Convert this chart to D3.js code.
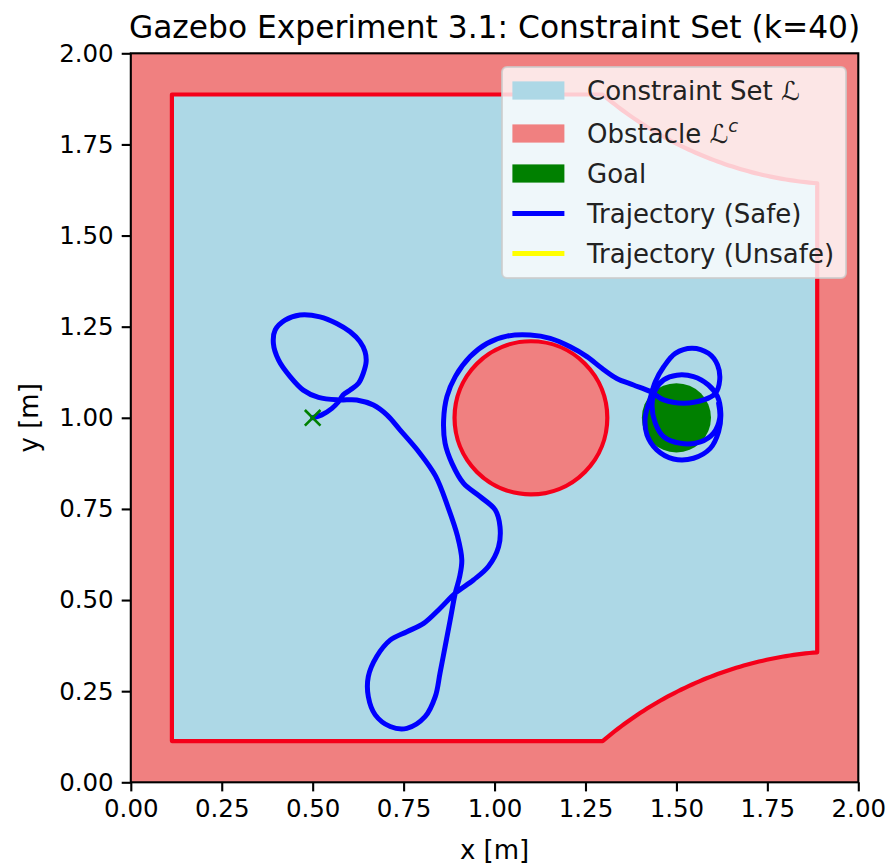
<!DOCTYPE html>
<html>
<head>
<meta charset="utf-8">
<script src="https://cdn.jsdelivr.net/npm/d3@7"></script>
<style>
  body { margin: 0; background: #ffffff; }
  text { font-family: "DejaVu Sans", sans-serif; }
</style>
</head>
<body>
<svg id="chart" width="893" height="867"></svg>
<script>
// ---- chart data ----
const chartTitle = "Gazebo Experiment 3.1: Constraint Set (k=40)";
const xLabel = "x [m]";
const yLabel = "y [m]";
const xTicks = [0, 0.25, 0.5, 0.75, 1.0, 1.25, 1.5, 1.75, 2.0];
const yTicks = [0, 0.25, 0.5, 0.75, 1.0, 1.25, 1.5, 1.75, 2.0];

// constraint set: inset box with two circular cut-outs on the right
const boxMin = 0.113;
const boxMax = 1.887;
const cutBottom = { cx: 1.97, cy: -0.68, r: 1.04 };
const cutTop = { cx: 1.97, cy: 2.68, r: 1.04 };

// circular obstacle, goal region and start point
const obstacle = { cx: 1.1, cy: 1.0, r: 0.21 };
const goal = { cx: 1.5, cy: 1.0, r: 0.095 };
const startPoint = { x: 0.5, y: 1.0 };

// robot trajectory (safe)
const trajX = [0.500, 0.525, 0.553, 0.571, 0.584, 0.603, 0.626, 0.639, 0.647, 0.644,
  0.630, 0.603, 0.566, 0.520, 0.465, 0.424, 0.397, 0.392, 0.406, 0.438,
  0.474, 0.516, 0.571, 0.621, 0.667, 0.704, 0.740, 0.793, 0.838, 0.872,
  0.898, 0.910, 0.904, 0.892, 0.878, 0.864, 0.850, 0.837, 0.809, 0.759,
  0.713, 0.672, 0.653, 0.653, 0.676, 0.713, 0.759, 0.805, 0.850, 0.892,
  0.942, 0.983, 1.011, 1.015, 1.002, 0.960, 0.915, 0.883, 0.864, 0.860,
  0.869, 0.892, 0.933, 0.979, 1.034, 1.098, 1.153, 1.208, 1.254, 1.295,
  1.336, 1.382, 1.428, 1.465, 1.520, 1.575, 1.607, 1.619, 1.613, 1.588,
  1.543, 1.497, 1.465, 1.442, 1.428, 1.414, 1.419, 1.446, 1.492, 1.547,
  1.593, 1.616, 1.622, 1.613, 1.588, 1.547, 1.501, 1.465, 1.442, 1.433,
  1.442, 1.465, 1.511, 1.566, 1.602, 1.619, 1.616];
const trajY = [1.000, 1.008, 1.026, 1.044, 1.063, 1.076, 1.095, 1.122, 1.154, 1.181,
  1.209, 1.236, 1.259, 1.277, 1.282, 1.268, 1.241, 1.204, 1.159, 1.113,
  1.076, 1.056, 1.049, 1.049, 1.035, 1.008, 0.967, 0.905, 0.840, 0.755,
  0.676, 0.610, 0.564, 0.519, 0.445, 0.372, 0.299, 0.235, 0.180, 0.148,
  0.153, 0.185, 0.235, 0.290, 0.345, 0.390, 0.413, 0.436, 0.477, 0.519,
  0.555, 0.592, 0.646, 0.701, 0.747, 0.784, 0.820, 0.875, 0.930, 0.994,
  1.058, 1.113, 1.168, 1.204, 1.224, 1.227, 1.218, 1.195, 1.168, 1.136,
  1.108, 1.090, 1.072, 1.049, 1.040, 1.049, 1.067, 1.104, 1.145, 1.177,
  1.191, 1.177, 1.140, 1.099, 1.054, 0.999, 0.953, 0.912, 0.887, 0.889,
  0.916, 0.962, 1.012, 1.058, 1.090, 1.113, 1.117, 1.104, 1.076, 1.035,
  0.985, 0.948, 0.930, 0.934, 0.958, 0.999, 1.040];

const legendLabels = ["Constraint Set ", "Obstacle ", "Goal", "Trajectory (Safe)", "Trajectory (Unsafe)"];
const legendKinds = ["patch", "patch", "patch", "line", "line"];

// ---- colours ----
const colSet = "#add8e6";
const colObs = "#f08080";
const colEdge = "#f5001a";
const colGoal = "#008000";
const colSafe = "#0000ff";
const colUnsafe = "#ffff00";
const legendColors = [colSet, colObs, colGoal, colSafe, colUnsafe];

// ---- layout ----
const plotL = 130.8, plotR = 858.3, plotT = 53.3, plotB = 782.3;
const fs = 26;
const tickFs = 24.5;

const svg = d3.select("#chart");
const x = d3.scaleLinear().domain([0, 2]).range([plotL, plotR]);
const y = d3.scaleLinear().domain([0, 2]).range([plotB, plotT]);

svg.append("defs").append("clipPath").attr("id", "plotClip")
  .append("rect").attr("x", plotL).attr("y", plotT)
  .attr("width", plotR - plotL).attr("height", plotB - plotT);

const plot = svg.append("g").attr("clip-path", "url(#plotClip)");

// obstacle region (everything outside the constraint set)
plot.append("rect").attr("x", plotL).attr("y", plotT)
  .attr("width", plotR - plotL).attr("height", plotB - plotT)
  .attr("fill", colObs);

// constraint set outline
function arcPoints(c, fromX, fromY, toX, toY, n) {
  const a0 = Math.atan2(fromY - c.cy, fromX - c.cx);
  const a1 = Math.atan2(toY - c.cy, toX - c.cx);
  return d3.range(n + 1).map(i => {
    const a = a0 + (a1 - a0) * i / n;
    return [c.cx + c.r * Math.cos(a), c.cy + c.r * Math.sin(a)];
  });
}
const xb = cutBottom.cx - Math.sqrt(cutBottom.r ** 2 - (boxMin - cutBottom.cy) ** 2);
const yb = cutBottom.cy + Math.sqrt(cutBottom.r ** 2 - (boxMax - cutBottom.cx) ** 2);
const yt = cutTop.cy - Math.sqrt(cutTop.r ** 2 - (boxMax - cutTop.cx) ** 2);
const xt = cutTop.cx - Math.sqrt(cutTop.r ** 2 - (boxMax - cutTop.cy) ** 2);

const setPts = [[boxMin, boxMin]]
  .concat(arcPoints(cutBottom, xb, boxMin, boxMax, yb, 60))
  .concat(arcPoints(cutTop, boxMax, yt, xt, boxMax, 60))
  .concat([[boxMin, boxMax]]);

plot.append("path")
  .attr("d", d3.line().x(d => x(d[0])).y(d => y(d[1]))(setPts) + "Z")
  .attr("fill", colSet)
  .attr("stroke", colEdge)
  .attr("stroke-width", 4.2)
  .attr("stroke-linejoin", "round");

// circular obstacle
plot.append("ellipse")
  .attr("cx", x(obstacle.cx)).attr("cy", y(obstacle.cy))
  .attr("rx", x(obstacle.r) - x(0)).attr("ry", y(0) - y(obstacle.r))
  .attr("fill", colObs)
  .attr("stroke", colEdge)
  .attr("stroke-width", 4.2);

// goal
plot.append("ellipse")
  .attr("cx", x(goal.cx)).attr("cy", y(goal.cy))
  .attr("rx", x(goal.r) - x(0)).attr("ry", y(0) - y(goal.r))
  .attr("fill", colGoal);

// trajectory
const traj = trajX.map((v, i) => [v, trajY[i]]);
plot.append("path")
  .attr("d", d3.line().x(d => x(d[0])).y(d => y(d[1])).curve(d3.curveCatmullRom.alpha(0.5))(traj))
  .attr("fill", "none")
  .attr("stroke", colSafe)
  .attr("stroke-width", 5)
  .attr("stroke-linejoin", "round")
  .attr("stroke-linecap", "round");

// start marker
const sx = x(startPoint.x), sy = y(startPoint.y), ms = 7.8;
plot.append("path")
  .attr("d", `M${sx - ms},${sy - ms}L${sx + ms},${sy + ms}M${sx - ms},${sy + ms}L${sx + ms},${sy - ms}`)
  .attr("stroke", colGoal).attr("stroke-width", 2.6).attr("fill", "none");

// ---- axes ----
const fmt = d3.format(".2f");
const xAxis = svg.append("g").attr("transform", `translate(0,${plotB})`)
  .call(d3.axisBottom(x).tickValues(xTicks).tickFormat(fmt).tickSize(9.1).tickPadding(8).tickSizeOuter(0));
const yAxis = svg.append("g").attr("transform", `translate(${plotL},0)`)
  .call(d3.axisLeft(y).tickValues(yTicks).tickFormat(fmt).tickSize(9.1).tickPadding(8).tickSizeOuter(0));
[xAxis, yAxis].forEach(a => {
  a.select(".domain").remove();
  a.selectAll(".tick line").attr("stroke", "#000").attr("stroke-width", 2.1);
  a.selectAll(".tick text").attr("fill", "#000").style("font-size", tickFs + "px")
    .style("font-family", "'DejaVu Sans', sans-serif");
});

svg.append("rect").attr("x", plotL).attr("y", plotT)
  .attr("width", plotR - plotL).attr("height", plotB - plotT)
  .attr("fill", "none").attr("stroke", "#000").attr("stroke-width", 2.1);

// titles
svg.append("text").attr("x", (plotL + plotR) / 2).attr("y", 38)
  .attr("text-anchor", "middle").style("font-size", "31.3px").attr("fill", "#000")
  .text(chartTitle);
svg.append("text").attr("x", (plotL + plotR) / 2).attr("y", 859)
  .attr("text-anchor", "middle").style("font-size", fs + "px").attr("fill", "#000")
  .text(xLabel);
svg.append("text").attr("transform", `translate(38,${(plotT + plotB) / 2}) rotate(-90)`)
  .attr("text-anchor", "middle").style("font-size", fs + "px").attr("fill", "#000")
  .text(yLabel);

// ---- legend ----
const lg = svg.append("g");
lg.append("rect").attr("x", 502).attr("y", 67).attr("width", 344).attr("height", 211)
  .attr("rx", 5).attr("fill", "#ffffff").attr("fill-opacity", 0.8)
  .attr("stroke", "#cccccc").attr("stroke-opacity", 0.8).attr("stroke-width", 2);

const hx0 = 512.4, hLen = 52, tx = 587;
legendLabels.forEach((lab, i) => {
  const cy = 90.5 + i * 40 + (i > 0 ? 3 : 0);
  if (legendKinds[i] === "patch") {
    lg.append("rect").attr("x", hx0).attr("y", cy - 9.1).attr("width", hLen).attr("height", 18.2)
      .attr("fill", legendColors[i]);
  } else {
    lg.append("line").attr("x1", hx0).attr("x2", hx0 + hLen).attr("y1", cy).attr("y2", cy)
      .attr("stroke", legendColors[i]).attr("stroke-width", 5);
  }
  const t = lg.append("text").attr("x", tx).attr("y", cy + 9.5)
    .style("font-size", fs + "px").attr("fill", "#222");
  t.append("tspan").text(lab);
  if (i === 0) {
    t.append("tspan").style("font-style", "italic").text("ℒ");
  } else if (i === 1) {
    t.append("tspan").style("font-style", "italic").text("ℒ");
    t.append("tspan").attr("dy", -11).style("font-size", "18px").style("font-style", "italic").text("c");
  }
});
</script>
</body>
</html>
